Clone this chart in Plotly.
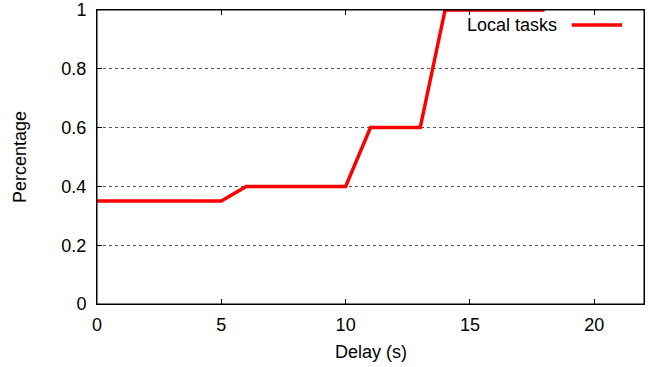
import plotly.graph_objects as go

delay = [0, 5, 6, 10, 11, 13, 14, 18]
percentage = [0.35, 0.35, 0.4, 0.4, 0.6, 0.6, 1.0, 1.0]
x_ticks = [0, 5, 10, 15, 20]
y_ticks = [0, 0.2, 0.4, 0.6, 0.8, 1]
y_tick_labels = ["0", "0.2", "0.4", "0.6", "0.8", "1"]
series_name = "Local tasks"
x_title = "Delay (s)"
y_title = "Percentage"

FONT = "Liberation Sans, Arial, sans-serif"
FS = 18

fig = go.Figure()
fig.add_trace(go.Scatter(
    x=delay, y=percentage, mode="lines", name=series_name,
    line=dict(color="#ff0000", width=3.5), cliponaxis=False, showlegend=False,
))

# plot frame
fig.add_shape(type="rect", xref="x domain", yref="y domain", x0=0, x1=1, y0=0, y1=1,
              line=dict(color="black", width=1), layer="above")

# legend: text then line sample
fig.add_annotation(xref="paper", yref="paper", x=0.845, y=0.949, text=series_name,
                   showarrow=False, xanchor="right", yanchor="middle",
                   font=dict(family=FONT, size=FS, color="black"))
fig.add_shape(type="line", xref="paper", yref="paper", x0=0.868, x1=0.960, y0=0.949, y1=0.949,
              line=dict(color="#ff0000", width=3.5))

# axis titles
fig.add_annotation(xref="paper", yref="paper", x=0.5, y=0, yshift=-48, text=x_title,
                   showarrow=False, xanchor="center", yanchor="middle",
                   font=dict(family=FONT, size=FS, color="black"))
fig.add_annotation(xref="paper", yref="paper", x=0, y=0.5, xshift=-77, text=y_title,
                   textangle=-90, showarrow=False, xanchor="center", yanchor="middle",
                   font=dict(family=FONT, size=FS, color="black"))

fig.update_layout(
    width=660, height=367,
    margin=dict(l=97, r=16, t=10, b=63),
    paper_bgcolor="white", plot_bgcolor="white",
    font=dict(family=FONT, size=FS, color="black"),
    showlegend=False,
)
fig.update_xaxes(
    range=[0, 22], tickvals=x_ticks, ticks="inside", ticklen=5, tickcolor="black",
    showline=True, linecolor="black", linewidth=1, mirror="ticks",
    showgrid=False, zeroline=False, automargin=False, ticklabelstandoff=4,
)
fig.update_yaxes(
    range=[0, 1], tickvals=y_ticks, ticktext=y_tick_labels, ticks="inside", ticklen=5,
    tickcolor="black", showline=True, linecolor="black", linewidth=1, mirror="ticks",
    showgrid=True, gridcolor="#555555", griddash="dot", gridwidth=1, zeroline=False,
    automargin=False, ticklabelstandoff=6,
)

# remove the browser's default 8px body margin so the figure starts at the page corner
fig.write_html("out.html", config={"displayModeBar": False},
               post_script="document.body.style.margin='0';")
